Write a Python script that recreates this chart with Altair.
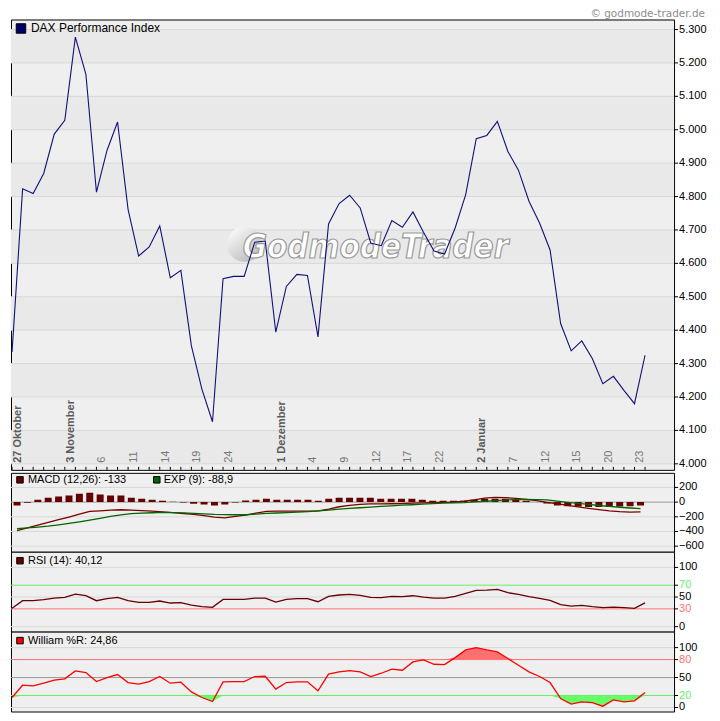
import altair as alt
import pandas as pd

# ---------------- data ----------------
dax = [4335, 4823, 4809, 4869, 4987, 5028, 5277, 5166, 4813, 4938,
       5023, 4761, 4622, 4649, 4712, 4557, 4579, 4353, 4223, 4126,
       4554, 4561, 4561, 4663, 4667, 4394, 4531, 4567, 4564, 4380,
       4718, 4779, 4804, 4766, 4661, 4653, 4728, 4708, 4754, 4693,
       4637, 4628, 4706, 4806, 4973, 4983, 5025, 4935, 4879, 4786,
       4721, 4640, 4420, 4338, 4368, 4315, 4240, 4262, 4220, 4180, 4325]

macd_line = [-390, -352, -314, -277, -240, -203, -165, -125, -118, -110,
             -104, -108, -116, -123, -132, -142, -155, -168, -185, -205,
             -215, -195, -178, -150, -125, -123, -122, -122, -122, -120,
             -95, -63, -44, -30, -24, -23, -22, -20, -15, -10,
             -7, -4, -2, 12, 32, 55, 66, 62, 50, 38,
             20, -2, -22, -45, -65, -85, -102, -118, -130, -135, -133]

signal_line = [-363, -352, -340, -327, -310, -290, -268, -245, -220, -195,
               -175, -158, -150, -145, -141, -143, -147, -153, -160, -167,
               -170, -172, -172, -163, -154, -148, -142, -136, -130, -120,
               -108, -96, -86, -77, -68, -59, -50, -42, -36, -28,
               -21, -14, -10, -6, 2, 12, 20, 28, 34, 36,
               35, 30, 13, -3, -18, -32, -46, -59, -70, -80, -89]

macd_hist = [-45, -8, 32, 59, 77, 91, 113, 127, 104, 91,
             91, 59, 45, 32, 18, 4, -4, -23, -32, -45,
             -32, -4, 23, 32, 45, 32, 32, 32, 32, 18,
             45, 59, 59, 59, 59, 45, 45, 45, 45, 32,
             18, 18, 18, 18, 32, 45, 45, 45, 32, 18,
             3, -18, -45, -55, -59, -68, -68, -68, -59, -55, -45]

rsi = [30.9, 43.8, 43.8, 45.5, 48.3, 49.4, 55.0, 52.2, 43.8, 47.2,
       49.4, 43.8, 41.0, 41.0, 43.3, 39.9, 40.4, 36.5, 33.7, 32.6,
       46.0, 46.0, 46.0, 48.3, 48.3, 41.6, 46.0, 47.2, 47.2, 42.1,
       51.1, 53.4, 54.5, 52.8, 49.4, 48.9, 51.1, 50.6, 52.2, 50.0,
       48.3, 48.3, 51.1, 56.2, 61.2, 61.8, 62.9, 57.3, 54.5, 50.6,
       47.8, 44.4, 37.1, 34.8, 36.0, 33.7, 32.0, 33.1, 32.0, 30.9, 40.1]

willr = [16.7, 37.2, 36.1, 40.6, 45.6, 47.8, 61.1, 58.3, 43.3, 50.0,
         55.0, 41.7, 38.9, 43.3, 51.7, 40.6, 42.2, 26.1, 16.7, 10.0,
         42.8, 43.3, 43.3, 51.7, 52.2, 30.6, 41.7, 42.8, 42.8, 27.8,
         55.6, 59.4, 61.7, 59.4, 51.7, 57.2, 63.9, 62.2, 76.1, 79.4,
         72.2, 71.7, 83.3, 96.1, 100.0, 96.1, 92.8, 81.7, 70.6, 59.4,
         51.7, 41.7, 15.0, 5.6, 9.4, 8.3, 2.2, 12.8, 9.4, 11.1, 24.9]

month_idx = [0, 5, 25, 44]
month_text = ["27 Oktober", "3 November", "1 Dezember", "2 Januar"]
day_idx = [8, 11, 14, 17, 20, 28, 31, 34, 37, 40, 47, 50, 53, 56, 59]
day_text = ["6", "11", "14", "19", "24", "4", "9", "12", "17", "22",
            "7", "12", "15", "20", "23"]

price_ticks = [4000, 4100, 4200, 4300, 4400, 4500, 4600, 4700,
               4800, 4900, 5000, 5100, 5200, 5300]
price_bands = [4000, 4200, 4400, 4600, 4800, 5000, 5200]
macd_ticks = [-600, -400, -200, 0, 200]
macd_grid = [200, -200, -400, -600]
rsi_ticks = [0, 50, 100]
rsi_high = [70]
rsi_low = [30]
rsi_grid = [0, 50, 100]
wr_ticks = [0, 50, 100]
wr_high = [80]
wr_low = [20]
wr_grid = [0, 100]

dax_label = "DAX Performance Index"
macd_label = "MACD (12,26): -133"
exp_label = "EXP (9): -88,9"
rsi_label = "RSI (14): 40,12"
wr_label = "William %R: 24,86"
copyright_label = "\u00a9 godmode-trader.de"
watermark_label = "GodmodeTrader"

# ---------------- setup ----------------
df = pd.DataFrame({"i": list(range(len(dax))), "dax": dax, "macd": macd_line,
                   "sig": signal_line, "hist": macd_hist, "rsi": rsi, "wr": willr})

FONT = "Liberation Sans"
W = 664
GREEN = "#66ee66"
SALMON = "#ff7070"
xs = alt.Scale(domain=[-0.1, 62.75], nice=False, zero=False)
X = alt.X("i:Q", scale=xs, axis=None)


def one(t):
    return pd.DataFrame({"t": [t]})


def legend(label, color, x_sq, x_txt, y, size, fsize):
    sq = alt.Chart(one(label)).mark_point(
        shape="square", filled=True, size=size, fill=color, stroke="#000000",
        strokeWidth=1, opacity=1).encode(x=alt.value(x_sq), y=alt.value(y))
    tx = alt.Chart(one(label)).mark_text(
        align="left", baseline="middle", font=FONT, fontSize=fsize,
        color="#000000").encode(x=alt.value(x_txt), y=alt.value(y), text="t:N")
    return [sq, tx]


def rules(values, scale, color):
    return alt.Chart(pd.DataFrame({"v": values})).mark_rule(
        color=color, strokeWidth=1).encode(y=alt.Y("v:Q", scale=scale, axis=None))


def yaxis(values, scale, color="#000000", expr="format(datum.v, 'd')"):
    """Right-hand value axis: outward ticks and labels placed through the scale."""
    base = alt.Chart(pd.DataFrame({"v": values}))
    ticks = base.mark_rule(color="#000000", strokeWidth=1).encode(
        y=alt.Y("v:Q", scale=scale, axis=None), x=alt.value(W), x2=alt.value(W + 4))
    labels = base.transform_calculate(lab=expr).mark_text(
        align="left", baseline="middle", font=FONT, fontSize=11, color=color).encode(
        y=alt.Y("v:Q", scale=scale, axis=None), x=alt.value(W + 5), text="lab:N")
    return [ticks, labels]


# ---------------- main price panel ----------------
ys_main = alt.Scale(domain=[3982, 5330], nice=False, zero=False)

bands = alt.Chart(pd.DataFrame({"lo": price_bands})).transform_calculate(
    hi="datum.lo + 100").mark_rect(color="#e9e9e9").encode(
    y=alt.Y("lo:Q", scale=ys_main, axis=None), y2="hi:Q",
    x=alt.value(0), x2=alt.value(W))

grid_main = rules(price_ticks, ys_main, "#d8d8d8")

wm_circle = alt.Chart(one(watermark_label)).mark_circle(
    size=1250, opacity=1,
    color=alt.Gradient(gradient="linear", x1=0.2, y1=0.1, x2=0.8, y2=0.9,
                       stops=[alt.GradientStop(color="#f6f6f6", offset=0),
                              alt.GradientStop(color="#bdbdbd", offset=1)])
).encode(x=alt.value(234), y=alt.value(225))
wm_font = "Liberation Sans Narrow, DejaVu Sans Condensed, sans-serif"
wm_text = alt.Chart(one(watermark_label)).mark_text(
    align="left", baseline="alphabetic", font=wm_font, fontSize=33,
    fontStyle="italic", fontWeight="bold", fill="#ffffff", stroke="#9a9a9a",
    strokeWidth=1.2).encode(x=alt.value(232), y=alt.value(239), text="t:N")

dax_line = alt.Chart(df).mark_line(color="#10107a", strokeWidth=1.1, clip=True).encode(
    x=X, y=alt.Y("dax:Q", scale=ys_main, axis=None))

xticks = alt.Chart(df).mark_rule(color="#000000", strokeWidth=1).encode(
    x=X, y=alt.value(448), y2=alt.value(451))

month_lbl = alt.Chart(pd.DataFrame({"i": month_idx, "t": month_text})).mark_text(
    angle=270, align="left", baseline="top", font=FONT, fontSize=11,
    fontWeight="bold", color="#5a5a5a").encode(x=X, y=alt.value(444), text="t:N")
day_lbl = alt.Chart(pd.DataFrame({"i": day_idx, "t": day_text})).mark_text(
    angle=270, align="left", baseline="top", font=FONT, fontSize=11,
    color="#777777").encode(x=X, y=alt.value(444), text="t:N")

copyright = alt.Chart(one(copyright_label)).mark_text(
    align="right", baseline="alphabetic", font="DejaVu Sans", fontSize=10.5,
    color="#8c8c8c").encode(x=alt.value(695), y=alt.value(-2), text="t:N")

main_chart = alt.layer(
    bands, grid_main, wm_circle, wm_text, dax_line, xticks,
    month_lbl, day_lbl, *legend(dax_label, "#000066", 10, 20, 9, 90, 12), copyright,
    *yaxis(price_ticks, ys_main, expr="replace(format(datum.v, ','), ',', '.')")
).properties(width=W, height=451)

# ---------------- MACD panel ----------------
ys_macd = alt.Scale(domain=[-676, 399], nice=False, zero=False)
macd_chart = alt.layer(
    rules(macd_grid, ys_macd, "#d8d8d8"),
    rules([0], ys_macd, "#999999"),
    alt.Chart(df).mark_bar(size=7, color="#660000", clip=True).encode(
        x=X, y=alt.Y("hist:Q", scale=ys_macd, axis=None)),
    alt.Chart(df).mark_line(color="#7a0000", strokeWidth=1.3, clip=True).encode(
        x=X, y=alt.Y("macd:Q", scale=ys_macd, axis=None)),
    alt.Chart(df).mark_line(color="#006600", strokeWidth=1.3, clip=True).encode(
        x=X, y=alt.Y("sig:Q", scale=ys_macd, axis=None)),
    *legend(macd_label, "#660000", 9, 17, 7, 42, 11),
    *legend(exp_label, "#006600", 146, 153, 7, 42, 11),
    *yaxis(macd_ticks, ys_macd),
).properties(width=W, height=79)

# ---------------- RSI panel ----------------
ys_rsi = alt.Scale(domain=[-8.4, 126.5], nice=False, zero=False)
rsi_chart = alt.layer(
    rules(rsi_grid, ys_rsi, "#d8d8d8"),
    rules(rsi_high, ys_rsi, GREEN),
    rules(rsi_low, ys_rsi, SALMON),
    alt.Chart(df).mark_line(color="#660000", strokeWidth=1.3, clip=True).encode(
        x=X, y=alt.Y("rsi:Q", scale=ys_rsi, axis=None)),
    *legend(rsi_label, "#660000", 9, 17, 9, 42, 11),
    *yaxis(rsi_ticks, ys_rsi),
    *yaxis(rsi_high, ys_rsi, color=GREEN),
    *yaxis(rsi_low, ys_rsi, color=SALMON),
).properties(width=W, height=80)

# ---------------- Williams %R panel ----------------
ys_wr = alt.Scale(domain=[-6.7, 126.7], nice=False, zero=False)
red_area = alt.Chart(df).transform_calculate(
    top="max(datum.wr, 80)", lvl="80").mark_area(
    color="#ff7070", opacity=1, clip=True).encode(
    x=X, y=alt.Y("top:Q", scale=ys_wr, axis=None), y2="lvl:Q")
green_area = alt.Chart(df).transform_calculate(
    bot="min(datum.wr, 20)", lvl="20").mark_area(
    color="#66ff66", opacity=1, clip=True).encode(
    x=X, y=alt.Y("bot:Q", scale=ys_wr, axis=None), y2="lvl:Q")
wr_chart = alt.layer(
    rules(wr_grid, ys_wr, "#d8d8d8"),
    red_area, green_area,
    rules([50], ys_wr, "#999999"),
    rules(wr_high, ys_wr, SALMON),
    rules(wr_low, ys_wr, GREEN),
    alt.Chart(df).mark_line(color="#ff0000", strokeWidth=1.3, clip=True).encode(
        x=X, y=alt.Y("wr:Q", scale=ys_wr, axis=None)),
    *legend(wr_label, "#ff0000", 9, 17, 9, 42, 11),
    *yaxis(wr_ticks, ys_wr),
    *yaxis(wr_high, ys_wr, color=SALMON),
    *yaxis(wr_low, ys_wr, color=GREEN),
).properties(width=W, height=80)

lower = alt.vconcat(macd_chart, rsi_chart, wr_chart, spacing=0, bounds="flush")
chart = alt.vconcat(main_chart, lower, spacing=3, bounds="flush").properties(
    padding={"left": 2, "top": 0, "right": 4, "bottom": 0}
).configure_view(
    fill="#efefef", stroke="#000000", strokeWidth=1
)

chart.save("out.html", embed_options={"renderer": "svg", "actions": False})
